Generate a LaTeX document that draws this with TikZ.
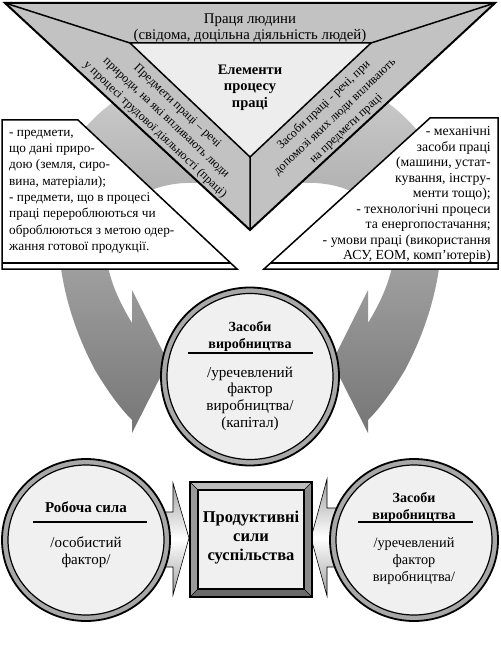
\documentclass[tikz,border=0pt]{standalone}
\usepackage{fontspec}
\setmainfont{Liberation Serif}
\definecolor{bandgray}{HTML}{C2C2C2}
\definecolor{innergray}{HTML}{EDEDED}
\definecolor{circfill}{HTML}{F0F0F0}
\definecolor{ringgray}{HTML}{A8A8A8}
\definecolor{arrtop}{HTML}{D2D2D2}
\definecolor{arrbot}{HTML}{767676}
\definecolor{bevtop}{HTML}{BDBDBD}
\definecolor{bevleft}{HTML}{9A9A9A}
\definecolor{bevright}{HTML}{8A8A8A}
\definecolor{bevbot}{HTML}{6A6A6A}
\begin{document}
\begin{tikzpicture}[x=1pt,y=-1pt,
  boxline/.style={draw=black,line width=1.5pt,line join=miter},
  bigarrow/.style={top color=arrtop,bottom color=arrbot},
  smallarrow/.style={top color=gray!75,bottom color=gray!75,middle color=white,draw=black,line width=0.6pt},
  ringout/.style={draw=black,line width=1.8pt,fill=ringgray},
  ringin/.style={draw=black,line width=1.2pt,fill=circfill},
  rule/.style={draw=black,line width=1.5pt},
  txt/.style={inner sep=0pt},
  body/.style={txt,font=\fontsize{13.3}{16.3}\selectfont},
  bodyr/.style={txt,font=\fontsize{13.8}{15.5}\selectfont},
  strip/.style={txt,align=center,font=\fontsize{12.2}{16.2}\selectfont},
  ctitle/.style={txt,align=center,font=\bfseries\fontsize{14}{17.5}\selectfont},
  cbody/.style={txt,align=center,font=\fontsize{15.2}{16.7}\selectfont}]
\useasboundingbox (0,0) rectangle (500,652);
\fill[white] (0,0) rectangle (500,652);

% big curved arrows (behind)
\shade[bigarrow] (250,60) .. controls (170,60) and (90,100) .. (65,160)
   .. controls (50,230) and (58,300) .. (95,370)
   .. controls (110,395) and (122,410) .. (132,420)
   -- (132,433) -- (168,362) -- (132,290) -- (132,323)
   .. controls (118,300) and (104,270) .. (107,245)
   .. controls (112,200) and (160,175) .. (215,185)
   -- (250,170) -- cycle;
\begin{scope}[shift={(500,0)},xscale=-1]
\shade[bigarrow] (250,60) .. controls (170,60) and (90,100) .. (65,160)
   .. controls (50,230) and (58,300) .. (95,370)
   .. controls (110,395) and (122,410) .. (132,420)
   -- (132,433) -- (168,362) -- (132,290) -- (132,323)
   .. controls (118,300) and (104,270) .. (107,245)
   .. controls (112,200) and (160,175) .. (215,185)
   -- (250,170) -- cycle;
\end{scope}

% text boxes
\filldraw[boxline,fill=white] (2,120) -- (78,120) -- (237,269) -- (2,269) -- cycle;
\draw[line width=1.2pt] (2,263) -- (230.6,263);
\filldraw[boxline,fill=white] (498,118) -- (430,118) -- (264,269) -- (498,269) -- cycle;
\draw[line width=1.2pt] (498,263) -- (270.6,263);

\node[body,anchor=north west,align=left] (lefttext) at (9,124.6) {\strut - предмети,\\що дані приро-\\дою (земля, сиро-\\вина, матеріали);\\- предмети, що в процесі\\праці перероблюються чи\\оброблюються з метою одер-\\жання готової продукції.};
\node[bodyr,anchor=north east,align=right] (righttext) at (491,124.6) {\strut - механічні\\засоби праці\\(машини, устат-\\кування, інстру-\\менти тощо);\\- технологічні процеси\\та енергопостачання;\\- умови праці (використання\\АСУ, ЕОМ, комп’ютерів)};

% triangle
\fill[bandgray] (5,3) -- (495,3) -- (250,230) -- cycle;
\fill[innergray] (130,43) -- (371,43) -- (250,157) -- cycle;
\draw[line width=1.5pt,line join=miter] (130,43) -- (371,43) -- (250,157) -- cycle;
\draw[line width=1.5pt] (5,3) -- (130,43) (495,3) -- (371,43) (250,157) -- (250,230);
\draw[line width=2pt,line join=miter] (5,3) -- (495,3) -- (250,230) -- cycle;

\node[txt,anchor=north,align=center,font=\fontsize{14.8}{15.2}\selectfont] (labour) at (250,13) {\strut Праця людини\\(свідома, доцільна діяльність людей)};
\node[txt,anchor=north,align=center,font=\bfseries\fontsize{14.5}{16.5}\selectfont] (elements) at (250,62.5) {\strut Елементи\\процесу\\праці};
\node[strip,rotate=-43.5] (objects) at (166,118) {Предмети праці – речі\\природи, на які впливають люди\\у процесі трудової діяльності (праці)};
\node[strip,rotate=43.5] (means) at (335,117) {Засоби праці - речі, при\\допомозі яких люди впливають\\на предмети праці};

% middle circle
\coordinate (mc) at (250,376.5);
\draw[ringout] (mc) circle[radius=89];
\draw[ringin] (mc) circle[radius=83];
\node[ctitle,anchor=north] (mtitle) at (250,318.9) {\strut Засоби\\виробництва};
\draw[rule] (188,353) -- (313,353);
\node[cbody,anchor=north] (mbody) at (250,365.3) {\strut /уречевлений\\фактор\\виробництва/\\(капітал)};

% bottom arrows
\shadedraw[smallarrow] (160,512) -- (173,512) -- (173,483) -- (189,538) -- (173,595) -- (173,567) -- (160,567) -- cycle;
\shadedraw[smallarrow] (340,508) -- (327,508) -- (327,479) -- (311,538) -- (327,596) -- (327,567) -- (340,567) -- cycle;

% bottom left circle
\coordinate (lc) at (86,540);
\draw[ringout] (lc) ellipse[x radius=84,y radius=81];
\draw[ringin] (lc) ellipse[x radius=78,y radius=75];
\node[ctitle,anchor=base,font=\bfseries\fontsize{15}{17}\selectfont] (ltitle) at (86,512.5) {Робоча сила};
\draw[rule] (33,522) -- (147,522);
\node[cbody,anchor=north,font=\fontsize{15}{17}\selectfont] (lbody) at (86,535.1) {\strut /особистий\\фактор/};

% bottom right circle
\coordinate (rc) at (414,540);
\draw[ringout] (rc) ellipse[x radius=84,y radius=81];
\draw[ringin] (rc) ellipse[x radius=78,y radius=75];
\node[ctitle,anchor=north,font=\bfseries\fontsize{14}{17}\selectfont] (rtitle) at (414,490.6) {\strut Засоби\\виробництва};
\draw[rule] (358,522) -- (473,522);
\node[cbody,anchor=north,font=\fontsize{14.3}{17}\selectfont] (rbody) at (414,535.1) {\strut /уречевлений\\фактор\\виробництва/};

% centre box
\fill[bevtop] (190,482) -- (312,482) -- (304,490) -- (198,490) -- cycle;
\fill[bevright] (312,482) -- (312,597) -- (304,589) -- (304,490) -- cycle;
\fill[bevbot] (312,597) -- (190,597) -- (198,589) -- (304,589) -- cycle;
\fill[bevleft] (190,597) -- (190,482) -- (198,490) -- (198,589) -- cycle;
\draw[line width=0.6pt] (190,482) -- (198,490) (312,482) -- (304,490) (312,597) -- (304,589) (190,597) -- (198,589);
\draw[line width=1.5pt,fill=circfill] (198,490) rectangle (304,589);
\draw[line width=1.5pt] (190,482) rectangle (312,597);
\node[txt,anchor=north,align=center,font=\bfseries\fontsize{16.5}{19}\selectfont] (prod) at (251,508.7) {\strut Продуктивні\\сили\\суспільства};
\end{tikzpicture}
\end{document}
